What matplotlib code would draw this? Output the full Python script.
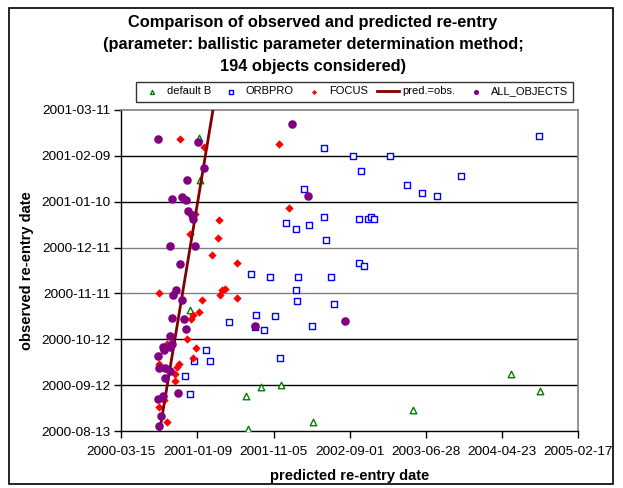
import matplotlib
matplotlib.use("Agg")
import matplotlib.pyplot as plt
import matplotlib.ticker as mticker
from matplotlib.patches import Rectangle
from datetime import datetime, timedelta
import numpy as np

plt.rcParams['font.family'] = ['Liberation Sans', 'DejaVu Sans']

# Dates are Excel serial day numbers (36600 = 2000-03-15)
# default B: predicted / observed
defb_pred = [36906, 36909, 36869, 37150, 37091, 37099, 37228, 37356, 37748, 38135, 38250]
defb_obs  = [36943, 36915, 36830, 36780, 36774, 36752, 36781, 36757, 36765, 36788, 36777]

orb_pred = [38245, 37399, 37513, 37657, 37545, 37938, 37726, 37785, 37843, 37320,
            37397, 37248, 37341, 37290, 37407, 37535, 37573, 37582, 37597, 37537,
            37555, 37109, 37184, 37297, 37426, 37288, 37293, 37437, 37132, 37206,
            37126, 37162, 37351, 37026, 37225, 36934, 36888, 36950, 36850, 36869]
orb_obs  = [36944, 36936, 36931, 36931, 36921, 36918, 36912, 36907, 36905, 36909,
            36891, 36887, 36886, 36883, 36876, 36890, 36890, 36891, 36890, 36861,
            36859, 36854, 36852, 36852, 36852, 36843, 36836, 36834, 36827, 36826,
            36819, 36817, 36820, 36822, 36799, 36804, 36797, 36797, 36787, 36775]

focus_pred = [36831, 36926, 37221, 36892, 36986, 36871, 36979, 36957, 37057, 36747,
              36917, 36990, 36996, 37007, 37057, 36905, 36881, 36873, 36860, 36895,
              36882, 36780, 36747, 36828, 36821, 36810, 36812, 36770, 36747, 36779,
              37261]
focus_obs  = [36942, 36937, 36939, 36893, 36889, 36880, 36877, 36866, 36861, 36841,
              36837, 36840, 36843, 36844, 36838, 36829, 36827, 36824, 36811, 36805,
              36799, 36808, 36795, 36795, 36793, 36788, 36784, 36771, 36767, 36757,
              36897]

all_pred = [36746, 36902, 36925, 36860, 36799, 36838, 36856, 36861, 36877, 36882,
            36790, 36892, 36831, 36814, 36805, 36838, 36801, 36847, 36856, 36790,
            36799, 36791, 36766, 36768, 36746, 36750, 36772, 36791, 36774, 36823,
            36765, 36746, 36755, 36748, 37271, 37336, 37481, 37126]
all_obs  = [36942, 36940, 36923, 36915, 36903, 36904, 36902, 36895, 36892, 36890,
            36872, 36872, 36860, 36843, 36840, 36837, 36825, 36824, 36818, 36813,
            36808, 36806, 36806, 36804, 36800, 36792, 36792, 36790, 36786, 36776,
            36774, 36772, 36761, 36754, 36952, 36905, 36823, 36820]

line_vals = [36748, 36961]

x_ticks = list(range(36600, 38401, 300))
y_ticks = list(range(36751, 36962, 30))

title_lines = ["Comparison of observed and predicted re-entry",
               "(parameter: ballistic parameter determination method;",
               "194 objects considered)"]

W, H = 623, 488
fig = plt.figure(figsize=(W/100, H/100), dpi=100)
ax = fig.add_axes([121.3/W, 1-431/H, (578.3-121.3)/W, (431-110)/H])

def serial_fmt(v, pos):
    return (datetime(1899, 12, 30) + timedelta(days=float(v))).strftime('%Y-%m-%d')

# gridlines
grid_cols = {36781: 'black', 36811: 'black', 36841: '#808080', 36871: '#808080',
             36901: 'black', 36931: 'black'}
for yv in y_ticks[1:-1]:
    ax.axhline(yv, color=grid_cols.get(yv, 'black'), lw=1.0, zorder=1)

ax.scatter(defb_pred, defb_obs, marker='^', s=22, facecolors='white', edgecolors='#008000',
           linewidths=1.0, zorder=3, label='default B')
ax.scatter(orb_pred, orb_obs, marker='s', s=22, facecolors='white', edgecolors='#0000FF',
           linewidths=1.0, zorder=3, label='ORBPRO')
ax.scatter(focus_pred, focus_obs, marker='D', s=18, color='#FF0000', linewidths=0,
           zorder=4, label='FOCUS')
ax.plot(line_vals, line_vals, color='#800000', lw=2, zorder=5, label='pred.=obs.')
ax.scatter(all_pred, all_obs, marker='o', s=38, color='#800080', linewidths=0,
           zorder=6, label='ALL_OBJECTS')

ax.set_xlim(x_ticks[0], x_ticks[-1])
ax.set_ylim(y_ticks[0], y_ticks[-1])
ax.set_xticks(x_ticks)
ax.set_yticks(y_ticks)
ax.xaxis.set_major_formatter(mticker.FuncFormatter(serial_fmt))
ax.yaxis.set_major_formatter(mticker.FuncFormatter(serial_fmt))
ax.tick_params(axis='both', direction='out', length=5, width=1, labelsize=9.7, pad=3,
               color='black')
ax.tick_params(axis='x', pad=6)
for s in ['left', 'bottom']:
    ax.spines[s].set_color('black')
    ax.spines[s].set_linewidth(1)
for s in ['top', 'right']:
    ax.spines[s].set_color('#808080')
    ax.spines[s].set_linewidth(1.2)

ax.set_xlabel('predicted re-entry date', fontsize=10.5, fontweight='bold', labelpad=8)
ax.set_ylabel('observed re-entry date', fontsize=10.5, fontweight='bold', labelpad=5)

for i, (t, yc) in enumerate(zip(title_lines, [22, 45, 66])):
    fig.text(313/W, 1-yc/H, t, ha='center', va='center', fontsize=11.8, fontweight='bold')

leg = fig.legend(loc='center', bbox_to_anchor=(354.5/W, 1-91.5/H), ncol=5,
                 fontsize=8, frameon=True, fancybox=False, edgecolor='black',
                 handlelength=2.0, handletextpad=0.3, columnspacing=0.85,
                 borderpad=0.45, markerscale=0.6)
leg.get_frame().set_linewidth(1)

fig.patches.append(Rectangle((9/W, 4/H), (613-9)/W, (482-6)/H, transform=fig.transFigure,
                             fill=False, edgecolor='black', lw=1.2))

fig.savefig('out.png', dpi=100)
